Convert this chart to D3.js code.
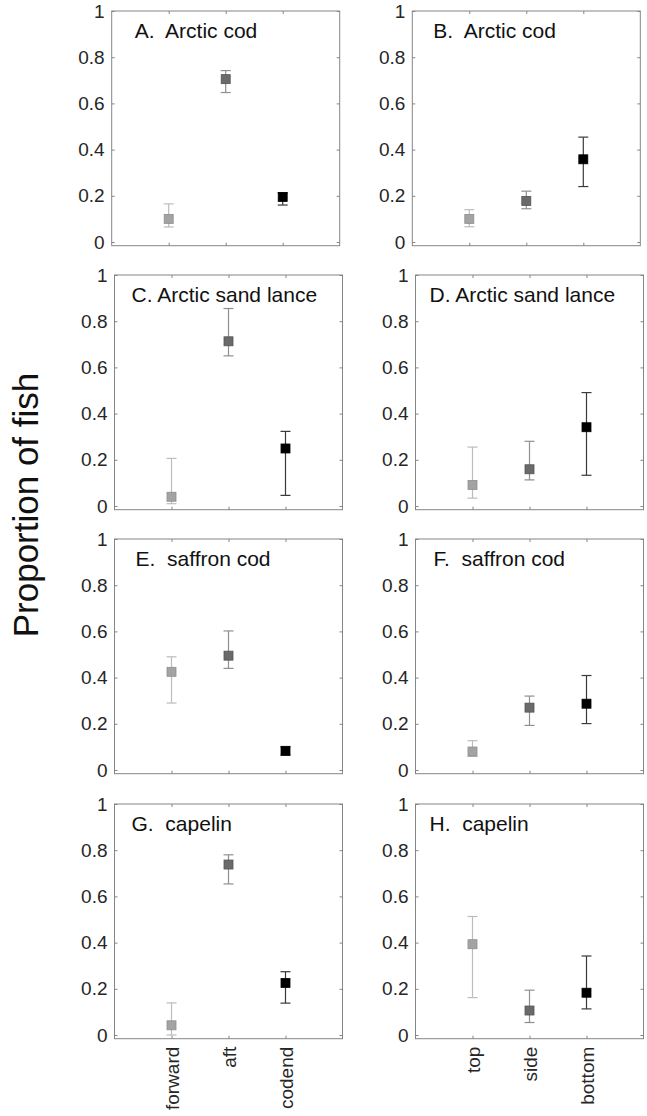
<!DOCTYPE html>
<html>
<head>
<meta charset="utf-8">
<script src="https://cdnjs.cloudflare.com/ajax/libs/d3/7.8.5/d3.min.js"></script>
<style>
  body { margin: 0; background: #fff; }
  text { font-family: "Liberation Sans", Arial, sans-serif; }
</style>
</head>
<body>
<div id="chart"></div>
<script>
// Chart data
var panelTitles = ["A.  Arctic cod", "B.  Arctic cod", "C. Arctic sand lance", "D. Arctic sand lance",
  "E.  saffron cod", "F.  saffron cod", "G.  capelin", "H.  capelin"];
var lengthCats = ["forward", "aft", "codend"];
var depthCats = ["top", "side", "bottom"];
var yTicks = [0, 0.2, 0.4, 0.6, 0.8, 1];

// proportion of fish (point estimate) per panel, in category order
var means = [
  [0.100, 0.705, 0.195],
  [0.100, 0.178, 0.358],
  [0.040, 0.713, 0.249],
  [0.091, 0.159, 0.341],
  [0.425, 0.495, 0.083],
  [0.080, 0.270, 0.287],
  [0.042, 0.738, 0.225],
  [0.393, 0.106, 0.183]
];
// lower confidence limits
var lowers = [
  [0.065, 0.647, 0.160],
  [0.066, 0.144, 0.240],
  [0.010, 0.650, 0.046],
  [0.034, 0.113, 0.133],
  [0.290, 0.440, 0.065],
  [0.059, 0.193, 0.201],
  [0.000, 0.654, 0.138],
  [0.162, 0.054, 0.113]
];
// upper confidence limits
var uppers = [
  [0.165, 0.742, 0.213],
  [0.140, 0.220, 0.454],
  [0.206, 0.855, 0.323],
  [0.255, 0.280, 0.491],
  [0.490, 0.602, 0.100],
  [0.127, 0.320, 0.409],
  [0.139, 0.780, 0.274],
  [0.513, 0.194, 0.342]
];

// Layout
var width = 647, height = 1116;
var panelW = 228, unitH = 231;
var rowTops = [11, 275, 539, 804];
var colLefts = [[111.7, 412.3], [114.5, 415.5], [114.5, 415.5], [114.5, 415.5]];
var titleDx = [23, 21, 17, 14, 21, 18, 17, 14];
var markerFill = ["#a3a3a3", "#6a6a6a", "#000000"];
var markerEdge = ["#8e8e8e", "#555555", "#000000"];
var barColor = ["#bcbcbc", "#8f8f8f", "#3a3a3a"];
var axisColor = "#858585";
var textColor = "#262626";

var svg = d3.select("#chart")
  .append("svg")
  .attr("width", width)
  .attr("height", height);

// Draw each panel
panelTitles.forEach(function (title, p) {
  var row = Math.floor(p / 2), col = p % 2;
  var left = colLefts[row][col];
  var top = rowTops[row];
  var cats = col === 0 ? lengthCats : depthCats;
  var panelH = unitH * 1.016;

  var x = d3.scalePoint().domain(cats).range([0, panelW]).padding(1);
  var y = d3.scaleLinear().domain([-0.016, 1]).range([panelH, 0]);

  var g = svg.append("g")
    .attr("transform", "translate(" + left + "," + top + ")");

  // Left axis with labels
  var yAxis = g.append("g")
    .call(d3.axisLeft(y).tickValues(yTicks).tickSize(-3).tickPadding(7)
      .tickFormat(function (d) { return d3.format("")(+d.toFixed(1)); }));
  yAxis.selectAll("text").style("font-size", "19px").attr("fill", textColor);

  // Right axis (ticks only)
  var yAxisR = g.append("g")
    .attr("transform", "translate(" + panelW + ",0)")
    .call(d3.axisRight(y).tickValues(yTicks).tickSize(-3).tickFormat(""));

  // Bottom axis
  var xAxis = g.append("g")
    .attr("transform", "translate(0," + panelH + ")")
    .call(d3.axisBottom(x).tickSize(-3).tickPadding(8));
  if (row === 3) {
    xAxis.selectAll("text")
      .attr("transform", "rotate(-90)")
      .attr("x", -8)
      .attr("y", 0)
      .attr("dy", "0.35em")
      .style("text-anchor", "end")
      .style("font-size", "19px")
      .attr("fill", textColor);
  } else {
    xAxis.selectAll("text").remove();
  }

  // Top axis (ticks only)
  var xAxisT = g.append("g")
    .call(d3.axisTop(x).tickSize(-3).tickFormat(""));

  [yAxis, yAxisR, xAxis, xAxisT].forEach(function (a) {
    a.select(".domain").remove();
    a.selectAll(".tick line").attr("stroke", axisColor);
  });

  // Box
  g.append("rect")
    .attr("x", 0)
    .attr("y", 0)
    .attr("width", panelW)
    .attr("height", panelH)
    .attr("fill", "none")
    .attr("stroke", axisColor)
    .attr("stroke-width", 1);

  var pts = cats.map(function (c, i) {
    return { cat: c, i: i, m: means[p][i], lo: lowers[p][i], hi: uppers[p][i] };
  });

  // Error bars
  var eb = g.selectAll(".eb")
    .data(pts)
    .enter().append("g")
    .attr("class", "eb")
    .attr("stroke", function (d) { return barColor[d.i]; })
    .attr("stroke-width", 1.2);

  eb.append("line")
    .attr("x1", function (d) { return x(d.cat); })
    .attr("x2", function (d) { return x(d.cat); })
    .attr("y1", function (d) { return y(d.lo); })
    .attr("y2", function (d) { return y(d.hi); });

  eb.append("line")
    .attr("x1", function (d) { return x(d.cat) - 5; })
    .attr("x2", function (d) { return x(d.cat) + 5; })
    .attr("y1", function (d) { return y(d.lo); })
    .attr("y2", function (d) { return y(d.lo); });

  eb.append("line")
    .attr("x1", function (d) { return x(d.cat) - 5; })
    .attr("x2", function (d) { return x(d.cat) + 5; })
    .attr("y1", function (d) { return y(d.hi); })
    .attr("y2", function (d) { return y(d.hi); });

  // Square markers
  g.selectAll(".pt")
    .data(pts)
    .enter().append("rect")
    .attr("class", "pt")
    .attr("x", function (d) { return x(d.cat) - 4.5; })
    .attr("y", function (d) { return y(d.m) - 4.5; })
    .attr("width", 9)
    .attr("height", 9)
    .attr("fill", function (d) { return markerFill[d.i]; })
    .attr("stroke", function (d) { return markerEdge[d.i]; })
    .attr("stroke-width", 0.8);

  // Panel title
  g.append("text")
    .attr("x", titleDx[p])
    .attr("y", 27)
    .attr("xml:space", "preserve")
    .style("white-space", "pre")
    .style("font-size", "21px")
    .attr("fill", "#111")
    .text(title);
});

// Shared y label
svg.append("text")
  .attr("transform", "translate(38,505) rotate(-90)")
  .attr("text-anchor", "middle")
  .style("font-size", "35px")
  .attr("fill", "#111")
  .text("Proportion of fish");
</script>
</body>
</html>
